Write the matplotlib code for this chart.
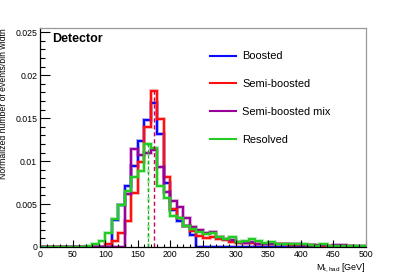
import numpy as np
import matplotlib.pyplot as plt
from matplotlib.ticker import MultipleLocator, FixedFormatter, FixedLocator

plt.rcParams['font.family'] = ['Liberation Sans', 'DejaVu Sans']
plt.rcParams['mathtext.fontset'] = 'custom'
plt.rcParams['mathtext.rm'] = 'Liberation Sans'
plt.rcParams['mathtext.it'] = 'Liberation Sans:italic'

# 10 GeV bins from 0 to 500 GeV
bin_edges = np.arange(0, 510, 10)

boosted = [0, 0, 0, 0, 0, 0, 0, 0, 0, 0,
           0, 0.0032, 0.0049, 0.0071, 0.0094, 0.0124, 0.0148, 0.0168, 0.0131, 0.0074,
           0.0043, 0.0030, 0.0024, 0.0014, 0, 0, 0, 0, 0, 0,
           0, 0, 0, 0, 0, 0, 0, 0, 0, 0,
           0, 0, 0, 0, 0, 0, 0, 0, 0, 0]

semi_boosted = [0, 0, 0, 0, 0, 0, 0, 0, 0, 0,
                0.0003, 0.0007, 0.0016, 0.0030, 0.0063, 0.0099, 0.0140, 0.0182, 0.0149, 0.0081,
                0.0044, 0.0034, 0.0024, 0.0019, 0.0013, 0.0011, 0.0012, 0.0009, 0.0008, 0.0006,
                0.0005, 0.0005, 0.0005, 0.0004, 0.0004, 0.0003, 0.0003, 0.0003, 0.0002, 0.0002,
                0.0002, 0.0002, 0.0001, 0.0001, 0.0001, 0.0001, 0.0001, 0.0001, 0, 0]

semi_boosted_mix = [0, 0, 0, 0, 0, 0, 0, 0, 0, 0,
                    0, 0, 0, 0.0062, 0.0114, 0.0107, 0.0110, 0.0113, 0.0093, 0.0064,
                    0.0053, 0.0047, 0.0034, 0.0023, 0.0020, 0.0016, 0.0017, 0.0012, 0.0009, 0.0008,
                    0.0006, 0.0005, 0.0006, 0.0004, 0.0004, 0.0003, 0.0004, 0.0004, 0.0003, 0.0003,
                    0.0002, 0.0002, 0.0002, 0.0002, 0.0001, 0.0002, 0.0002, 0.0001, 0.0001, 0.0001]

resolved = [0, 0, 0, 0, 0, 0, 0, 0.0001, 0.00035, 0.00066,
            0.0016, 0.0033, 0.0049, 0.0065, 0.0081, 0.0088, 0.0120, 0.0115, 0.0071, 0.0057,
            0.0036, 0.0034, 0.0025, 0.0021, 0.0017, 0.0015, 0.0016, 0.0012, 0.0009, 0.0012,
            0.0006, 0.0007, 0.0009, 0.0007, 0.0005, 0.0006, 0.0004, 0.0004, 0.0004, 0.0003,
            0.0003, 0.0002, 0.0001, 0.0003, 0.0001, 0.0001, 0.0001, 0.0001, 0.0001, 0.0001]

labels = ["Boosted", "Semi-boosted", "Semi-boosted mix", "Resolved"]
colors = ["#0a0aff", "#ff1010", "#990099", "#22cc22"]

# peak markers (GeV)
peak_semi_boosted = 175.5
peak_resolved = 165.5

fig = plt.figure(figsize=(4.07, 2.75), dpi=100)
ax = fig.add_axes([40 / 407, 28 / 275, 326 / 407, 219 / 275])

series = [boosted, semi_boosted, semi_boosted_mix, resolved]
for vals, col, lab in zip(series, colors, labels):
    ax.stairs(vals, bin_edges, color=col, lw=2.8, alpha=0.3)
    ax.stairs(vals, bin_edges, color=col, lw=1.5, label=lab)

# dashed peak lines
ax.vlines(peak_resolved, 0, max(resolved), color="#22cc22", lw=2.2, alpha=0.35,
          linestyles=(0, (1.5, 1.5)))
ax.vlines(peak_resolved, 0, max(resolved), color="#22aa22", lw=0.8,
          linestyles=(0, (3, 2)))
ax.vlines(peak_semi_boosted, 0, max(semi_boosted), color="#cc0055", lw=1.0,
          linestyles=(0, (3, 2)))

ax.set_xlim(0, 500)
ax.set_ylim(0, 0.0255)

ax.xaxis.set_major_locator(MultipleLocator(50))
ax.xaxis.set_minor_locator(MultipleLocator(10))
yt = [0, 0.005, 0.01, 0.015, 0.02, 0.025]
ax.yaxis.set_major_locator(FixedLocator(yt))
ax.yaxis.set_major_formatter(FixedFormatter(["0", "0.005", "0.01", "0.015", "0.02", "0.025"]))
ax.yaxis.set_minor_locator(MultipleLocator(0.001))

ax.tick_params(axis='both', which='both', direction='in', labelsize=6.3, colors='black')
ax.tick_params(axis='y', which='major', length=7, width=0.8, pad=2)
ax.tick_params(axis='y', which='minor', length=3.5, width=0.8)
ax.tick_params(axis='x', which='major', length=5, width=0.8, pad=2)
ax.tick_params(axis='x', which='minor', length=2.5, width=0.8)

for s in ['top', 'right']:
    ax.spines[s].set_color('#999999')
for s in ['left', 'bottom']:
    ax.spines[s].set_color('black')
for s in ax.spines.values():
    s.set_linewidth(0.9)

ax.set_xlabel(r"M$_{\mathrm{t,had}}$ [GeV]", fontsize=6.5, loc='right')
ax.xaxis.set_label_coords(1.0, -0.065)
ax.set_ylabel("Normalized number of events/bin width", fontsize=6.2, loc='top')
ax.yaxis.set_label_coords(-0.098, 1.0)

ax.text(0.037, 0.975, "Detector", transform=ax.transAxes, fontsize=9,
        fontweight='bold', ha='left', va='top')

ax.legend(loc='upper left', bbox_to_anchor=(0.52, 0.893), frameon=False,
          fontsize=7.9, handlelength=2.45, handletextpad=0.55,
          labelspacing=1.62, borderaxespad=0, borderpad=0)

fig.savefig("out.png", dpi=100)
